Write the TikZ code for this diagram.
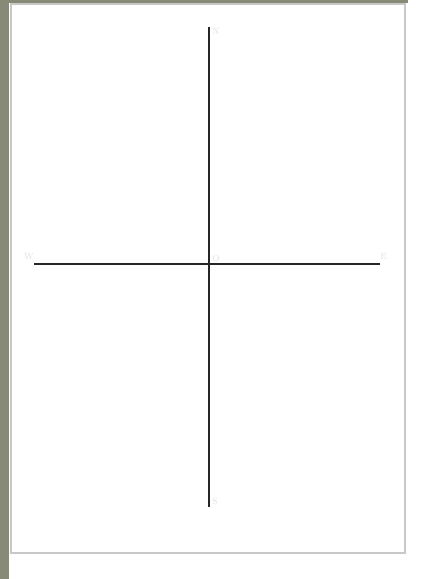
\documentclass[tikz,border=0pt]{standalone}
\usepackage{xcolor}
\usetikzlibrary{positioning}
\definecolor{deskgray}{RGB}{136,138,120}
\definecolor{framegray}{RGB}{200,200,200}
\definecolor{faint}{RGB}{222,222,222}

\begin{document}
\begin{tikzpicture}[x=1pt,y=-1pt]
			\tikzstyle{every node}=[inner sep=0pt,minimum size=0pt]
			\tikzstyle{lbl}=[text=faint,font=\small]

			% page and background
			\fill[white] (0,0) rectangle (435,579);
			\fill[deskgray] (0,0) rectangle (9,579);
			\fill[deskgray] (0,0) rectangle (408,3);
			\draw[framegray,line width=1.5pt] (11,4) rectangle (405,553);

			\node (o) at (209,264) [label={[lbl,xshift=3pt,yshift=2pt]above right:O}] {};
			\node (n) at (209,27) [label={[lbl,xshift=3pt,yshift=-4pt]right:N}] {};
			\node (s) at (209,507) [label={[lbl,xshift=3pt,yshift=6pt]right:S}] {};
			\node (w) at (34,264) [label={[lbl,yshift=4pt]above left:W}] {};
			\node (e) at (380,264) [label={[lbl,yshift=4pt]above right:E}] {};

			\path[-,line width=1.4pt,draw=black!85]
			(n) edge (s)
			(w) edge (e);

		\end{tikzpicture}
\end{document}
